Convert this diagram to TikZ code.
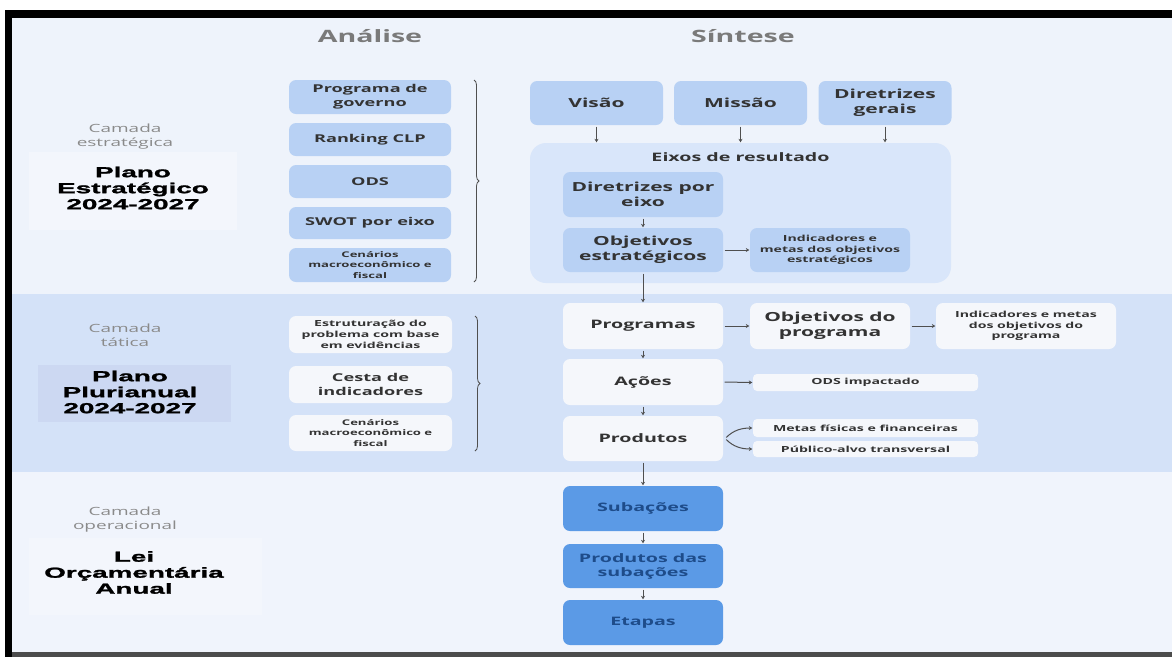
\documentclass[tikz,border=0pt]{standalone}
\usepackage{fontspec}
\setmainfont{Open Sans}[FakeStretch=1.68]
\newfontfamily\heavyfont{Liberation Sans}[FakeStretch=1.92, BoldFeatures={FakeBold=1.6}]
\usetikzlibrary{arrows.meta,decorations.pathreplacing}

\definecolor{topbg}{HTML}{EEF3FB}
\definecolor{bandbg}{HTML}{D4E2F8}
\definecolor{botbg}{HTML}{F0F4FC}
\definecolor{lightbox}{HTML}{B8D1F4}
\definecolor{eixosbg}{HTML}{D9E6FA}
\definecolor{whitebox}{HTML}{F5F7FB}
\definecolor{darkbox}{HTML}{5B9AE6}
\definecolor{navytext}{HTML}{1E4C8A}
\definecolor{boxtext}{HTML}{333333}
\definecolor{arrowgray}{HTML}{4F4F4F}
\definecolor{labelgray}{HTML}{8A8A8A}
\definecolor{headgray}{HTML}{7A7A7A}
\definecolor{titlebgA}{HTML}{F3F6FC}
\definecolor{titlebgB}{HTML}{CCD8F2}

\tikzset{
  boxbase/.style={rounded corners=7pt, align=center, inner sep=1pt, text=boxtext},
  lbox/.style={boxbase, fill=lightbox},
  wbox/.style={boxbase, fill=whitebox},
  dbox/.style={boxbase, fill=darkbox, text=navytext},
  sthirteen/.style={font=\fontsize{12.5}{14.7}\selectfont\bfseries},
  stwelve/.style={font=\fontsize{11.7}{14}\selectfont\bfseries},
  seleven/.style={font=\fontsize{10.8}{13.7}\selectfont\bfseries},
  snine/.style={font=\fontsize{8.4}{10.8}\selectfont\bfseries},
  seight/.style={font=\fontsize{7.8}{10.3}\selectfont\bfseries},
  arr/.style={draw=arrowgray, line width=1pt, shorten <=1.5pt, shorten >=0.5pt,
    -{Stealth[length=3.5pt,width=4pt]}},
  bracket/.style={draw=arrowgray, line width=0.8pt, decorate,
    decoration={brace, amplitude=5pt}},
  layerlabel/.style={align=center, text=labelgray, font=\fontsize{11.3}{14}\selectfont},
  layertitle/.style={align=center, text=black, font=\heavyfont\bfseries\fontsize{14.5}{16}\selectfont},
  colhead/.style={text=headgray, font=\fontsize{17}{20}\selectfont\bfseries},
}

\begin{document}
\begin{tikzpicture}[x=1pt, y=-1pt]
\useasboundingbox (0,0) rectangle (1172,657);

% page and layer backgrounds
\fill[white] (0,0) rectangle (1172,657);
\fill[topbg] (12,18) rectangle (1172,294);
\fill[bandbg] (12,294) rectangle (1172,472);
\fill[botbg] (12,472) rectangle (1172,652);
\fill[black] (5,10) rectangle (1172,18);
\fill[black] (5,10) rectangle (12,657);
\fill[black!70] (12,652) rectangle (1172,657);

% layer titles on the left
\fill[titlebgA] (29,152) rectangle (237,230);
\fill[titlebgB] (38,365) rectangle (231,422);
\fill[titlebgA] (29,538) rectangle (262,615);

\node[layerlabel] (camE) at (125,137) {Camada\\estratégica};
\node[layertitle] (plE) at (133,188) {Plano\\Estratégico\\2024-2027};
\node[layerlabel] (camT) at (125,335) {Camada\\tática};
\node[layertitle] (plP) at (130,392) {Plano\\Plurianual\\2024-2027};
\node[layerlabel] (camO) at (125,520) {Camada\\operacional};
\node[layertitle] (plL) at (134,572.5) {Lei\\Orçamentária\\Anual};

% column headings
\node[colhead] (hA) at (370,36) {Análise};
\node[colhead] (hS) at (743,36) {Síntese};

% analysis, strategic layer
\node[lbox, seleven, minimum width=162pt, minimum height=34pt] (pg) at (370,97) {Programa de\\governo};
\node[lbox, seleven, minimum width=162pt, minimum height=33pt] (rk) at (370,139.5) {Ranking CLP};
\node[lbox, seleven, minimum width=162pt, minimum height=33pt] (odsA) at (370,181.5) {ODS};
\node[lbox, seleven, minimum width=162pt, minimum height=32pt] (swot) at (370,223) {SWOT por eixo};
\node[lbox, seight, minimum width=162pt, minimum height=34pt] (cenA) at (370,265) {Cenários\\macroeconômico e\\fiscal};
\draw[bracket] (474,80) -- (474,282);

% synthesis, strategic layer
\node[lbox, sthirteen, minimum width=133pt, minimum height=44pt] (visao) at (596.5,103) {Visão};
\node[lbox, sthirteen, minimum width=133pt, minimum height=44pt] (missao) at (740.5,103) {Missão};
\node[lbox, sthirteen, minimum width=133pt, minimum height=44pt] (dirg) at (885,103) {Diretrizes\\gerais};
\node[boxbase, fill=eixosbg, rounded corners=16pt, minimum width=421pt, minimum height=140pt] (eixos) at (740.5,213) {};
\node[stwelve, text=boxtext] (eixosT) at (740.5,157) {Eixos de resultado};
\node[lbox, sthirteen, minimum width=160pt, minimum height=45pt] (dpe) at (643,194.5) {Diretrizes por\\eixo};
\node[lbox, sthirteen, minimum width=160pt, minimum height=44pt] (obje) at (643,250) {Objetivos\\estratégicos};
\node[lbox, snine, minimum width=160pt, minimum height=44pt] (inde) at (830,250) {Indicadores e\\metas dos objetivos\\estratégicos};

\draw[arr] (visao.south) -- (visao.south |- eixos.north);
\draw[arr] (missao.south) -- (missao.south |- eixos.north);
\draw[arr] (dirg.south) -- (dirg.south |- eixos.north);
\draw[arr] (dpe) -- (obje);
\draw[arr] (obje) -- (inde);

% analysis, tactical layer
\node[wbox, snine, minimum width=163pt, minimum height=37pt] (est) at (370.5,334.5) {Estruturação do\\problema com base\\em evidências};
\node[wbox, seleven, minimum width=163pt, minimum height=37pt] (cesta) at (370.5,384.5) {Cesta de\\indicadores};
\node[wbox, seight, minimum width=163pt, minimum height=36pt] (cenB) at (370.5,433) {Cenários\\macroeconômico e\\fiscal};
\draw[bracket] (475,316) -- (475,451);

% synthesis, tactical layer
\node[wbox, stwelve, minimum width=160pt, minimum height=46pt] (prog) at (643,326) {Programas};
\node[wbox, sthirteen, minimum width=160pt, minimum height=46pt] (objp) at (830,326) {Objetivos do\\programa};
\node[wbox, snine, minimum width=180pt, minimum height=46pt] (indp) at (1026,326) {Indicadores e metas\\dos objetivos do\\programa};
\node[wbox, stwelve, minimum width=160pt, minimum height=46pt] (acoes) at (643,382) {Ações};
\node[wbox, snine, rounded corners=4pt, minimum width=225pt, minimum height=17pt] (odsi) at (865.5,382.5) {ODS impactado};
\node[wbox, stwelve, minimum width=160pt, minimum height=45pt] (prod) at (643,438.5) {Produtos};
\node[wbox, snine, rounded corners=4pt, minimum width=225pt, minimum height=18pt] (metas) at (865.5,428) {Metas físicas e financeiras};
\node[wbox, snine, rounded corners=4pt, minimum width=225pt, minimum height=16pt] (pub) at (865.5,449) {Público-alvo transversal};

\draw[arr] (obje) -- (prog);
\draw[arr] (prog) -- (objp);
\draw[arr] (objp) -- (indp);
\draw[arr] (prog) -- (acoes);
\draw[arr] (acoes.east) -- (odsi.west);
\draw[arr] (acoes) -- (prod);
\draw[arr] ([xshift=2pt]prod.east) to[out=45, in=180] (metas.west);
\draw[arr] ([xshift=2pt]prod.east) to[out=-45, in=180] (pub.west);

% operational layer
\node[dbox, stwelve, minimum width=160pt, minimum height=45pt] (sub) at (643,508.5) {Subações};
\node[dbox, stwelve, minimum width=160pt, minimum height=44pt] (pds) at (643,566) {Produtos das\\subações};
\node[dbox, stwelve, minimum width=160pt, minimum height=45pt] (etapas) at (643,622.5) {Etapas};

\draw[arr] (prod) -- (sub);
\draw[arr] (sub) -- (pds);
\draw[arr] (pds) -- (etapas);
\end{tikzpicture}
\end{document}
